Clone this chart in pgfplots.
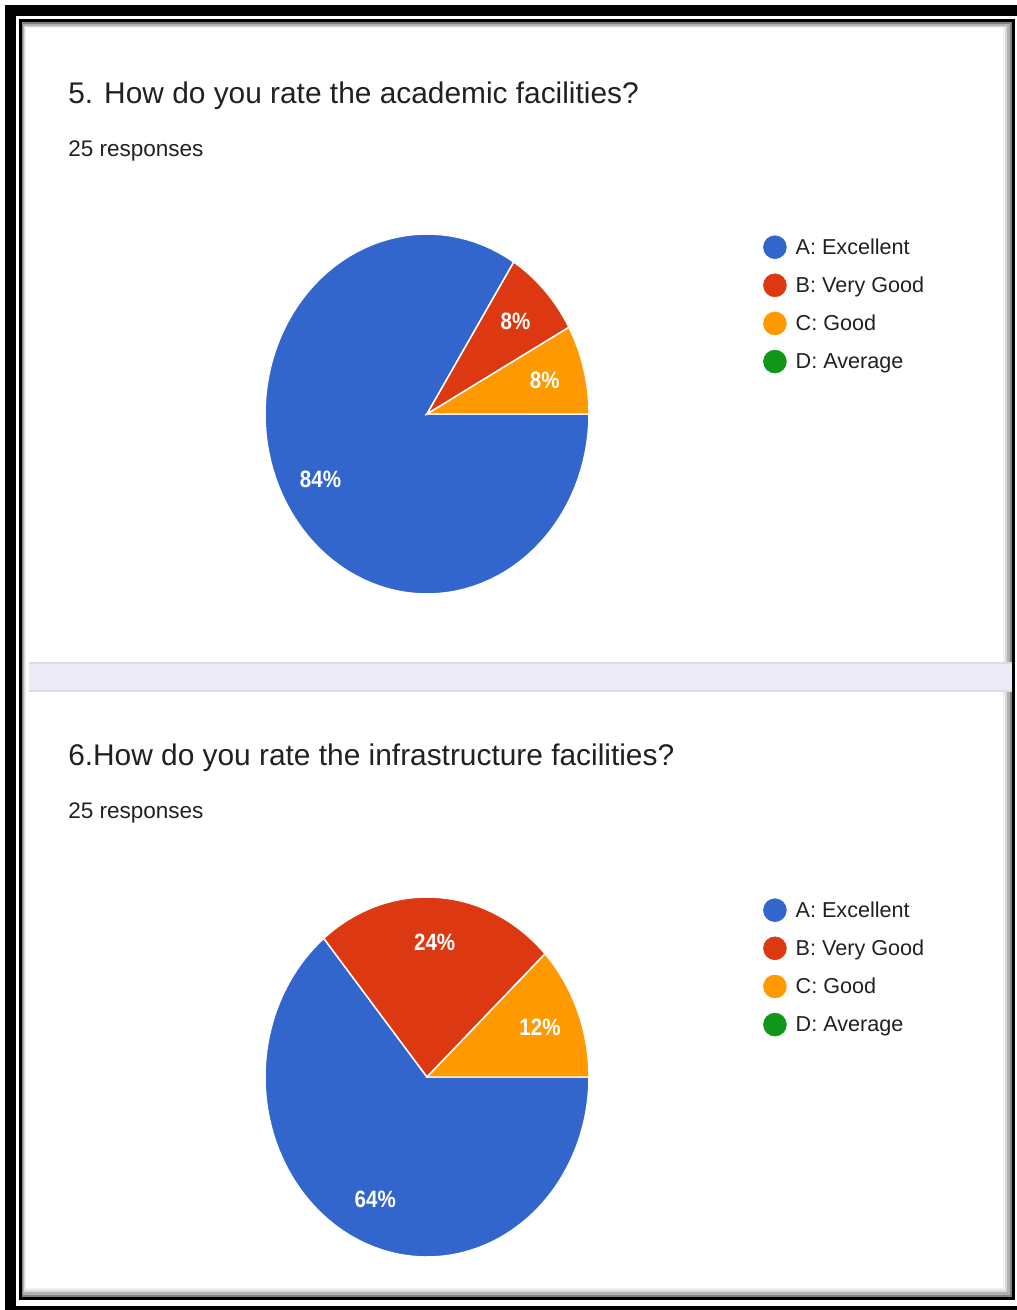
\documentclass[border=0pt]{standalone}
\usepackage{pgfplots}
\pgfplotsset{compat=1.18}
\usepackage{pgfplotstable}
\usepackage{graphicx}
\usepackage{fontspec}
\setmainfont{Liberation Sans}
\definecolor{gblue}{HTML}{3366CC}
\definecolor{gred}{HTML}{DC3912}
\definecolor{gorange}{HTML}{FF9900}
\definecolor{ggreen}{HTML}{109618}
\definecolor{gtext}{HTML}{202124}
\definecolor{lav}{HTML}{ECEAF7}
\definecolor{sepline}{HTML}{DADCE0}

% Question 5: percentages of the 25 responses
\pgfplotstableread{
option pct
A 84
B 8
C 8
D 0
}\qfive
% Question 6
\pgfplotstableread{
option pct
A 64
B 24
C 12
D 0
}\qsix

\pgfplotstablegetelem{0}{pct}\of\qfive\edef\pfA{\pgfplotsretval}
\pgfplotstablegetelem{1}{pct}\of\qfive\edef\pfB{\pgfplotsretval}
\pgfplotstablegetelem{2}{pct}\of\qfive\edef\pfC{\pgfplotsretval}
\pgfplotstablegetelem{0}{pct}\of\qsix\edef\psA{\pgfplotsretval}
\pgfplotstablegetelem{1}{pct}\of\qsix\edef\psB{\pgfplotsretval}
\pgfplotstablegetelem{2}{pct}\of\qsix\edef\psC{\pgfplotsretval}
% slice end angles (clockwise from 3 o'clock)
\pgfmathsetmacro\efA{-3.6*\pfA}
\pgfmathsetmacro\efB{-3.6*(\pfA+\pfB)}
\pgfmathsetmacro\efC{-3.6*(\pfA+\pfB+\pfC)}
\pgfmathsetmacro\esA{-3.6*\psA}
\pgfmathsetmacro\esB{-3.6*(\psA+\psB)}
\pgfmathsetmacro\esC{-3.6*(\psA+\psB+\psC)}
% label positions
\pgfmathsetmacro\lfAx{0.75*cos(\efA/2)}\pgfmathsetmacro\lfAy{0.75*sin(\efA/2)}
\pgfmathsetmacro\lfBx{0.75*cos((\efA+\efB)/2)}\pgfmathsetmacro\lfBy{0.75*sin((\efA+\efB)/2)}
\pgfmathsetmacro\lfCx{0.75*cos((\efB+\efC)/2)}\pgfmathsetmacro\lfCy{0.75*sin((\efB+\efC)/2)}
\pgfmathsetmacro\lsAx{0.75*cos(\esA/2)}\pgfmathsetmacro\lsAy{0.75*sin(\esA/2)}
\pgfmathsetmacro\lsBx{0.75*cos((\esA+\esB)/2)}\pgfmathsetmacro\lsBy{0.75*sin((\esA+\esB)/2)}
\pgfmathsetmacro\lsCx{0.75*cos((\esB+\esC)/2)}\pgfmathsetmacro\lsCy{0.75*sin((\esB+\esC)/2)}

\pgfplotsset{
 pieaxis/.style={anchor=center, x=121.5pt, y=135pt,
   xmin=-1.02, xmax=1.02, ymin=-1.02, ymax=1.02,
   hide axis, clip=false,
   legend image code/.code={\fill[##1] (0pt,0pt) circle (8.6pt);},
   legend style={at={(axis description cs:1.5165,0.987)}, anchor=north west,
     draw=none, fill=none, inner sep=0pt, text=gtext,
     font=\fontsize{16.2}{19.4}\selectfont,
     row sep=11pt, column sep=6.75pt, nodes={inner sep=0pt}},
   legend cell align=left},
 slice/.style={draw=white, line width=1.1pt, samples=100, forget plot},
}
\tikzset{plabel/.style={text=white, font=\bfseries\fontsize{15.4}{18}\selectfont, inner sep=0pt}}
\newcommand\pl[1]{\scalebox{1}[1.15]{#1}}

\begin{document}
\begin{tikzpicture}[x=0.75pt, y=-0.75pt]
\path[use as bounding box] (0,0) rectangle (1017,1310);
\fill[white] (0,0) rectangle (1017,1310);
\fill[black] (5,5) rectangle (1017,1310);
\fill[white] (16,16) rectangle (1017,1306);
\draw[black, line width=2.25pt] (20.5,20.5) rectangle (1013.5,1298.5);
\fill[black!50] (22,22) rectangle (1012,1297);
\fill[black!30] (23,24) rectangle (1010,1295);
\fill[black!15] (24,26) rectangle (1007,1292);
\fill[black!6] (25,27) rectangle (1005,1290);
\fill[white] (26,28) rectangle (1003,1288);
% separator between the two cards
\fill[lav] (29,663) rectangle (1012,691);
\draw[sepline, line width=1pt] (29,663) -- (1012,663);
\draw[sepline, line width=1pt] (29,691) -- (1012,691);

% texts
\node[anchor=base west, inner sep=0pt, text=gtext, font=\fontsize{22.4}{26}\selectfont] at (68,103) {5. How do you rate the academic facilities?};
\node[anchor=base west, inner sep=0pt, text=gtext, font=\fontsize{16.9}{20}\selectfont] at (68,156) {25 responses};
\node[anchor=base west, inner sep=0pt, text=gtext, font=\fontsize{22.4}{26}\selectfont] at (68,765) {6.How do you rate the infrastructure facilities?};
\node[anchor=base west, inner sep=0pt, text=gtext, font=\fontsize{16.9}{20}\selectfont] at (68,818) {25 responses};

\coordinate (c1) at (427,414);
\coordinate (c2) at (427,1077);

\begin{axis}[pieaxis, at={(c1)}]
\addplot[slice, fill=gblue, domain=\efA:0] ({cos(x)},{sin(x)}) -- (axis cs:0,0) -- cycle;
\addplot[slice, fill=gred, domain=\efB:\efA] ({cos(x)},{sin(x)}) -- (axis cs:0,0) -- cycle;
\addplot[slice, fill=gorange, domain=\efC:\efB] ({cos(x)},{sin(x)}) -- (axis cs:0,0) -- cycle;
\node[plabel] at (axis cs:\lfAx,\lfAy) {\pl{\pfA\%}};
\node[plabel] at (axis cs:\lfBx,\lfBy) {\pl{\pfB\%}};
\node[plabel] at (axis cs:\lfCx,\lfCy) {\pl{\pfC\%}};
\addlegendimage{gblue}\addlegendentry{A: Excellent}
\addlegendimage{gred}\addlegendentry{B: Very Good}
\addlegendimage{gorange}\addlegendentry{C: Good}
\addlegendimage{ggreen}\addlegendentry{D: Average}
\end{axis}

\begin{axis}[pieaxis, at={(c2)}]
\addplot[slice, fill=gblue, domain=\esA:0] ({cos(x)},{sin(x)}) -- (axis cs:0,0) -- cycle;
\addplot[slice, fill=gred, domain=\esB:\esA] ({cos(x)},{sin(x)}) -- (axis cs:0,0) -- cycle;
\addplot[slice, fill=gorange, domain=\esC:\esB] ({cos(x)},{sin(x)}) -- (axis cs:0,0) -- cycle;
\node[plabel] at (axis cs:\lsAx,\lsAy) {\pl{\psA\%}};
\node[plabel] at (axis cs:\lsBx,\lsBy) {\pl{\psB\%}};
\node[plabel] at (axis cs:\lsCx,\lsCy) {\pl{\psC\%}};
\addlegendimage{gblue}\addlegendentry{A: Excellent}
\addlegendimage{gred}\addlegendentry{B: Very Good}
\addlegendimage{gorange}\addlegendentry{C: Good}
\addlegendimage{ggreen}\addlegendentry{D: Average}
\end{axis}
\end{tikzpicture}
\end{document}
